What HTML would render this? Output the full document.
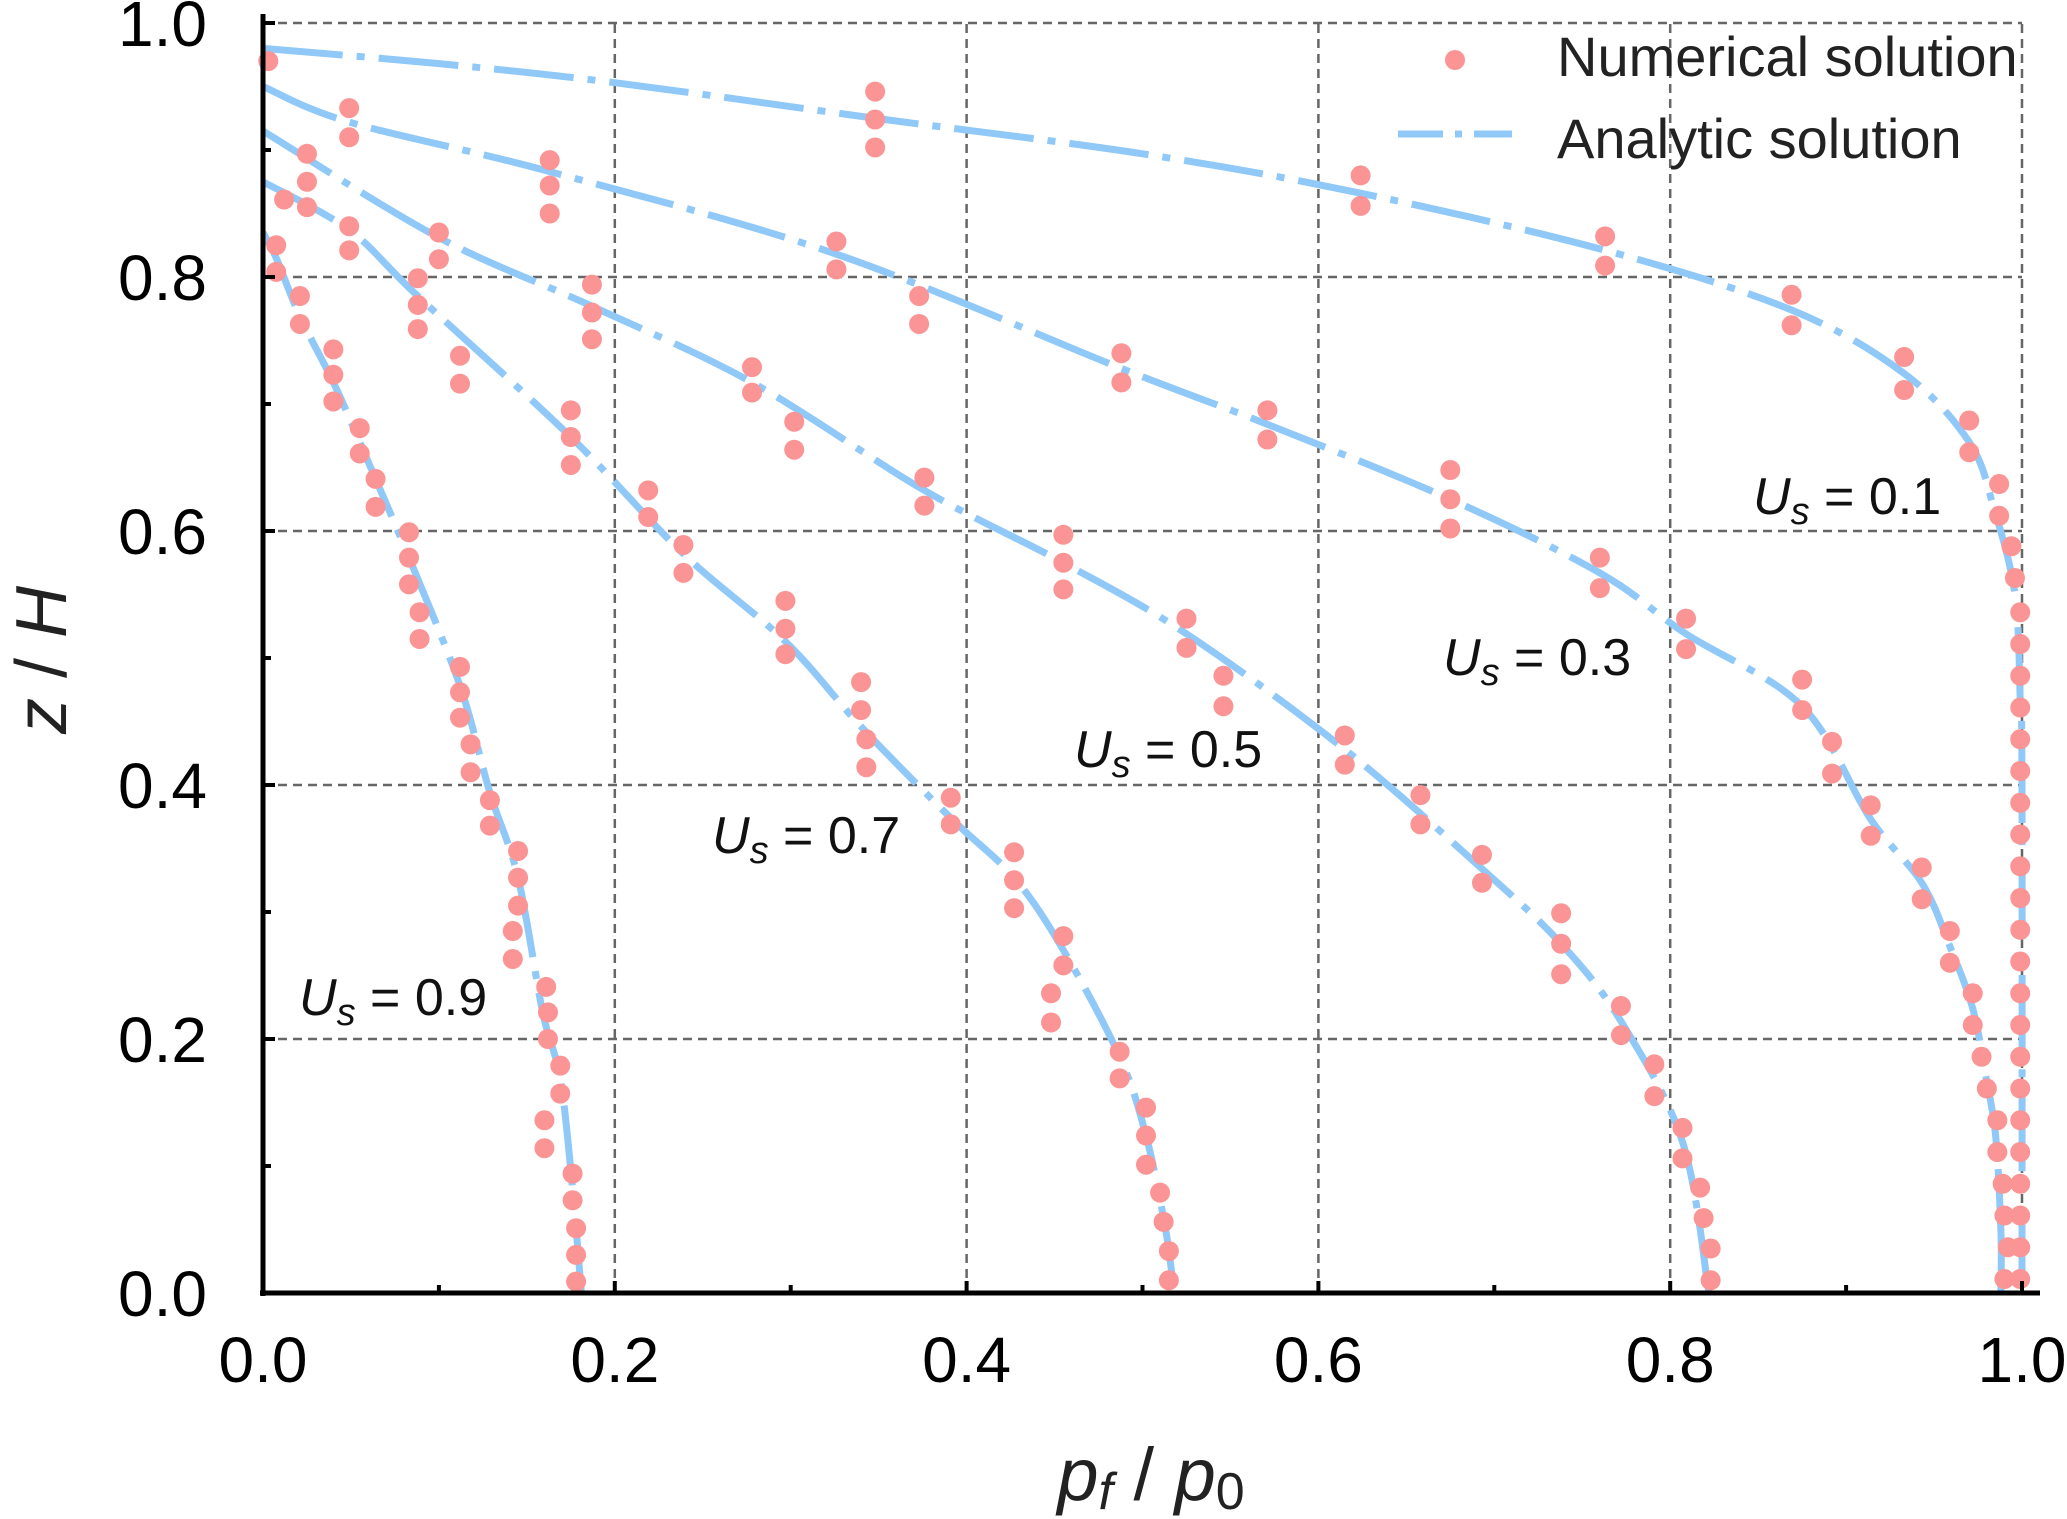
<!DOCTYPE html>
<html><head><meta charset="utf-8">
<style>
html,body{margin:0;padding:0;background:#fff;}
svg{display:block;font-family:"Liberation Sans",sans-serif;}
</style></head>
<body>
<svg id="chart" width="2067" height="1519" viewBox="0 0 2067 1519" xmlns="http://www.w3.org/2000/svg">
<g id="grid"></g>
<g id="curves"></g>
<g id="points"></g>
<g id="axes"></g>
<g id="labels"></g>
</svg>
<script>
// ---- data ----
const xTicks = [0, 0.2, 0.4, 0.6, 0.8, 1.0];
const yTicks = [0, 0.2, 0.4, 0.6, 0.8, 1.0];
const tickLabels = ["0.0","0.2","0.4","0.6","0.8","1.0"];
const seriesNames = ["0.1","0.3","0.5","0.7","0.9"];

// analytic curves (x = pf/p0, z = z/H)
const curve01X = [0,0.1,0.2,0.348,0.5,0.624,0.763,0.869,0.933,0.970,0.984,0.996,0.999,1.0,1.0];
const curve01Z = [0.98,0.968,0.953,0.925,0.897,0.866,0.821,0.774,0.724,0.670,0.618,0.550,0.467,0.40,0];
const curve03X = [0,0.049,0.163,0.326,0.488,0.571,0.675,0.760,0.809,0.875,0.914,0.943,0.959,0.972,0.979,0.985,0.988,0.988];
const curve03Z = [0.95,0.922,0.883,0.818,0.728,0.684,0.625,0.567,0.519,0.462,0.373,0.323,0.273,0.224,0.174,0.124,0.049,0];
const curve05X = [0,0.100,0.187,0.278,0.376,0.455,0.525,0.615,0.693,0.738,0.772,0.807,0.822];
const curve05Z = [0.915,0.831,0.777,0.717,0.632,0.575,0.519,0.428,0.334,0.275,0.214,0.119,0];
const curve07X = [0,0.049,0.088,0.175,0.239,0.297,0.340,0.391,0.427,0.455,0.487,0.502,0.513,0.518];
const curve07Z = [0.875,0.837,0.785,0.674,0.582,0.513,0.446,0.374,0.327,0.270,0.186,0.124,0.051,0];
const curve09X = [0,0.0075,0.021,0.040,0.055,0.083,0.112,0.129,0.145,0.159,0.169,0.176,0.181];
const curve09Z = [0.835,0.815,0.769,0.717,0.670,0.579,0.478,0.394,0.327,0.221,0.169,0.082,0];

// numerical points
const pts01X = [0.003,0.348,0.348,0.348,0.624,0.624,0.763,0.763,0.869,0.869,0.933,0.933,0.970,0.970,0.987,0.987,0.994,0.996,
 0.999,0.999,0.999,0.999,0.999,0.999,0.999,0.999,0.999,0.999,0.999,0.999,0.999,0.999,0.999,0.999,0.999,0.999,0.999,0.999,0.999,0.999];
const pts01Z = [0.970,0.946,0.924,0.902,0.880,0.856,0.832,0.809,0.786,0.762,0.737,0.711,0.687,0.662,0.637,0.612,0.588,0.563,
 0.536,0.511,0.486,0.461,0.436,0.411,0.386,0.361,0.336,0.311,0.286,0.261,0.236,0.211,0.186,0.161,0.136,0.111,0.086,0.061,0.036,0.011];
const pts03X = [0.049,0.049,0.163,0.163,0.163,0.326,0.326,0.373,0.373,0.488,0.488,0.571,0.571,0.675,0.675,0.675,0.760,0.760,0.809,0.809,
 0.875,0.875,0.892,0.892,0.914,0.914,0.943,0.943,0.959,0.959,0.972,0.972,0.977,0.980,0.986,0.986,0.989,0.990,0.992,0.990];
const pts03Z = [0.933,0.910,0.892,0.872,0.850,0.828,0.806,0.785,0.763,0.740,0.717,0.695,0.672,0.648,0.625,0.602,0.579,0.555,0.531,0.507,
 0.483,0.459,0.434,0.409,0.384,0.360,0.335,0.310,0.285,0.260,0.236,0.211,0.186,0.161,0.136,0.111,0.086,0.061,0.036,0.011];
const pts05X = [0.025,0.025,0.025,0.100,0.100,0.187,0.187,0.187,0.278,0.278,0.302,0.302,0.376,0.376,0.455,0.455,0.455,0.525,0.525,0.546,0.546,
 0.615,0.615,0.658,0.658,0.693,0.693,0.738,0.738,0.738,0.772,0.772,0.791,0.791,0.807,0.807,0.817,0.819,0.823,0.823];
const pts05Z = [0.897,0.875,0.855,0.835,0.814,0.794,0.772,0.751,0.729,0.709,0.686,0.664,0.642,0.620,0.597,0.575,0.554,0.531,0.508,0.486,0.462,
 0.439,0.416,0.392,0.369,0.345,0.323,0.299,0.275,0.251,0.226,0.203,0.180,0.155,0.130,0.106,0.083,0.059,0.035,0.010];
const pts07X = [0.012,0.049,0.049,0.088,0.088,0.088,0.112,0.112,0.175,0.175,0.175,0.219,0.219,0.239,0.239,0.297,0.297,0.297,0.340,0.340,0.343,0.343,
 0.391,0.391,0.427,0.427,0.427,0.455,0.455,0.448,0.448,0.487,0.487,0.502,0.502,0.502,0.510,0.512,0.515,0.515];
const pts07Z = [0.861,0.840,0.821,0.799,0.778,0.759,0.738,0.716,0.695,0.674,0.652,0.632,0.611,0.589,0.567,0.545,0.523,0.503,0.481,0.459,0.436,0.414,
 0.390,0.369,0.347,0.325,0.303,0.281,0.258,0.236,0.213,0.190,0.169,0.146,0.124,0.101,0.079,0.056,0.033,0.010];
const pts09X = [0.0075,0.0075,0.021,0.021,0.040,0.040,0.040,0.055,0.055,0.064,0.064,0.083,0.083,0.083,0.089,0.089,0.112,0.112,0.112,0.118,0.118,
 0.129,0.129,0.145,0.145,0.145,0.142,0.142,0.161,0.162,0.162,0.169,0.169,0.160,0.160,0.176,0.176,0.178,0.178,0.178];
const pts09Z = [0.825,0.804,0.785,0.763,0.743,0.723,0.702,0.681,0.661,0.641,0.619,0.599,0.579,0.558,0.536,0.515,0.493,0.473,0.453,0.432,0.410,
 0.388,0.368,0.348,0.327,0.305,0.285,0.263,0.241,0.221,0.200,0.179,0.157,0.136,0.114,0.094,0.073,0.051,0.030,0.009];

// ---- scales ----
const X0 = 263, X1 = 2022, Y0 = 1293, Y1 = 23;
function sx(v){ return X0 + v*(X1-X0); }
function sy(v){ return Y0 - v*(Y0-Y1); }
const NS = "http://www.w3.org/2000/svg";
function mk(tag, attrs, parent){
  const e = document.createElementNS(NS, tag);
  for (const k in attrs) e.setAttribute(k, attrs[k]);
  parent.appendChild(e);
  return e;
}
const grid = document.getElementById('grid');
const axes = document.getElementById('axes');
const curvesG = document.getElementById('curves');
const pointsG = document.getElementById('points');

xTicks.forEach((t,i)=>{
  if (t === 0) return;
  const l = mk('line',{x1:sx(t),x2:sx(t),y1:sy(0),y2:sy(1),stroke:'#666','stroke-width':2.5,'stroke-dasharray':'9 6'},grid);
  
  
});
yTicks.forEach((t,i)=>{
  if (t === 0) return;
  const l = mk('line',{x1:sx(0),x2:sx(1),y1:sy(t),y2:sy(t),stroke:'#666','stroke-width':2.5,'stroke-dasharray':'9 6'},grid);
  
  
});

const curveXs = [curve01X,curve03X,curve05X,curve07X,curve09X];
const curveZs = [curve01Z,curve03Z,curve05Z,curve07Z,curve09Z];
curveXs.forEach((xs,s)=>{
  const zs = curveZs[s];
  const P = xs.map((x,i)=>[sx(x),sy(zs[i])]);
  let d = 'M'+P[0][0]+','+P[0][1];
  for (let i=0;i<P.length-1;i++){
    const p0=P[Math.max(i-1,0)],p1=P[i],p2=P[i+1],p3=P[Math.min(i+2,P.length-1)];
    const c1=[p1[0]+(p2[0]-p0[0])/6,p1[1]+(p2[1]-p0[1])/6];
    const c2=[p2[0]-(p3[0]-p1[0])/6,p2[1]-(p3[1]-p1[1])/6];
    d += ' C'+c1[0]+','+c1[1]+' '+c2[0]+','+c2[1]+' '+p2[0]+','+p2[1];
  }
  const p = mk('path',{d:d,fill:'none',stroke:'#90c8f8','stroke-width':7,'stroke-dasharray':'80 14 8 14'},curvesG);
  
  
});

const ptXs = [pts01X,pts03X,pts05X,pts07X,pts09X];
const ptZs = [pts01Z,pts03Z,pts05Z,pts07Z,pts09Z];
ptXs.forEach((xs,s)=>{
  xs.forEach((x,i)=>{
    const c = mk('circle',{cx:sx(x),cy:sy(ptZs[s][i]),r:10,fill:'#fb9494'},pointsG);
    
    
  });
});

const la = mk('line',{x1:X0,x2:X0,y1:14,y2:Y0+3,stroke:'#000','stroke-width':5},axes);


const ba = mk('line',{x1:X0-3,x2:2040,y1:Y0,y2:Y0,stroke:'#000','stroke-width':5},axes);


for (let k=1;k<=10;k++){
  const v=k/10, major=(k%2===0), len= major?12:8;
  const tx = mk('line',{x1:sx(v),x2:sx(v),y1:Y0,y2:Y0-len,stroke:'#000','stroke-width':4},axes);
  
  
  const ty = mk('line',{x1:X0,x2:X0+len,y1:sy(v),y2:sy(v),stroke:'#000','stroke-width':4},axes);
  
  
}
xTicks.forEach((t,i)=>{
  const e = mk('text',{x:sx(t),y:1382,'font-size':64,'text-anchor':'middle',fill:'#000'},axes);
  e.textContent = tickLabels[i];
  
  
});
yTicks.forEach((t,i)=>{
  const e = mk('text',{x:207,y:sy(t)+23,'font-size':64,'text-anchor':'end',fill:'#000'},axes);
  e.textContent = tickLabels[i];
  
  
});
</script>
<svg style="position:absolute;left:0;top:0" width="2067" height="1519">
  <text transform="translate(66,660) rotate(-90)" font-family="Liberation Sans, sans-serif" font-size="72" text-anchor="middle" fill="#222"><tspan font-style="italic">z</tspan> / <tspan font-style="italic">H</tspan></text>
  <text x="1151" y="1500" font-family="Liberation Sans, sans-serif" font-size="74" text-anchor="middle" fill="#222"><tspan font-style="italic">p</tspan><tspan font-style="italic" font-size="52" dy="9">f</tspan><tspan dy="-9"> / </tspan><tspan font-style="italic">p</tspan><tspan font-size="52" dy="9">0</tspan></text>
  <g font-family="Liberation Sans, sans-serif" font-size="52" fill="#111">
    <text x="1753" y="514"><tspan font-style="italic">U</tspan><tspan font-style="italic" font-size="38" dy="10">s</tspan><tspan dy="-10"> = 0.1</tspan></text>
    <text x="1443" y="675"><tspan font-style="italic">U</tspan><tspan font-style="italic" font-size="38" dy="10">s</tspan><tspan dy="-10"> = 0.3</tspan></text>
    <text x="1074" y="767"><tspan font-style="italic">U</tspan><tspan font-style="italic" font-size="38" dy="10">s</tspan><tspan dy="-10"> = 0.5</tspan></text>
    <text x="712" y="853"><tspan font-style="italic">U</tspan><tspan font-style="italic" font-size="38" dy="10">s</tspan><tspan dy="-10"> = 0.7</tspan></text>
    <text x="299" y="1015"><tspan font-style="italic">U</tspan><tspan font-style="italic" font-size="38" dy="10">s</tspan><tspan dy="-10"> = 0.9</tspan></text>
  </g>
  <g font-family="Liberation Sans, sans-serif" font-size="56" fill="#222">
    <circle cx="1455" cy="60" r="10" fill="#fb9494"/>
    <text x="1557" y="76">Numerical solution</text>
    <line x1="1398" y1="134" x2="1512" y2="134" stroke="#90c8f8" stroke-width="7" stroke-dasharray="45 12 7 12"/>
    <text x="1557" y="158">Analytic solution</text>
  </g>
</svg>
</body></html>
